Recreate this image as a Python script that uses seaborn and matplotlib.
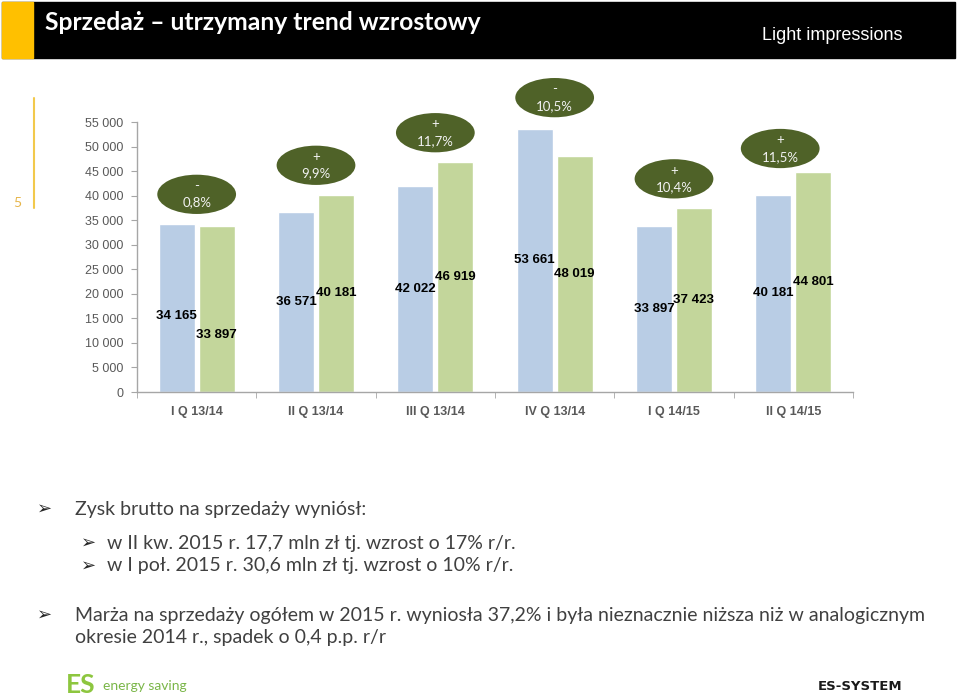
import matplotlib

matplotlib.use("Agg")
import matplotlib.pyplot as plt
import numpy as np
import pandas as pd
import seaborn as sns
from matplotlib.patches import Ellipse, Rectangle

# --------------------
# Data
# --------------------
quarters = ["I Q 13/14", "II Q 13/14", "III Q 13/14", "IV Q 13/14", "I Q 14/15", "II Q 14/15"]
sales_prev = [34165, 36571, 42022, 53661, 33897, 40181]
sales_curr = [33897, 40181, 46919, 48019, 37423, 44801]
change_sign = ["-", "+", "+", "-", "+", "+"]
change_pct = ["0,8%", "9,9%", "11,7%", "10,5%", "10,4%", "11,5%"]
y_ticks = list(range(0, 55001, 5000))

title = "Sprzedaż – utrzymany trend wzrostowy"
bullets = [
    "Zysk brutto na sprzedaży wyniósł:",
    "w II kw. 2015 r. 17,7 mln zł tj. wzrost o 17% r/r.",
    "w I poł. 2015 r. 30,6 mln zł tj. wzrost o 10% r/r.",
    "Marża na sprzedaży ogółem w 2015 r. wyniosła 37,2% i była nieznacznie niższa niż w analogicznym",
    "okresie 2014 r., spadek o 0,4 p.p. r/r",
]

df = pd.DataFrame(
    {
        "quarter": quarters * 2,
        "value": sales_prev + sales_curr,
        "series": ["prev"] * len(quarters) + ["curr"] * len(quarters),
    }
)

BLUE = "#B9CDE5"
GREEN = "#C3D69B"
OLIVE = "#4F6228"
GRAY = "#595959"
SANS = ["Lato", "DejaVu Sans"]
ARIAL = ["Liberation Sans", "DejaVu Sans"]

W, H = 960, 700


def fx(px):
    return px / W


def fy(py):
    return 1 - py / H


sns.set_style("white")
fig = plt.figure(figsize=(9.6, 7), dpi=100)

# --------------------
# Header / slide decorations
# --------------------
fig.patches.append(
    Rectangle((fx(2), fy(58)), fx(955 - 2), 56 / H, transform=fig.transFigure, color="black", zorder=0)
)
fig.patches.append(
    Rectangle((fx(2), fy(58)), fx(31), 56 / H, transform=fig.transFigure, color="#FFC000", zorder=1)
)
fig.text(fx(45), fy(23), title, color="white", fontsize=17.8, fontweight="bold", family=SANS, va="center")
fig.text(
    fx(903), fy(35), "Light impressions", color="white", fontsize=13,
    family=["Liberation Sans Narrow", "Liberation Sans"], ha="right", va="center",
)
fig.text(fx(17), fy(203), "5", color="#E6B54A", fontsize=10, family=SANS, ha="center", va="center")
fig.lines.append(
    plt.Line2D([fx(34), fx(34)], [fy(98), fy(208)], transform=fig.transFigure, color="#F2C94C", linewidth=1.5)
)

# --------------------
# Bar chart
# --------------------
ax = fig.add_axes([fx(137), fy(392), fx(853 - 137), (392 - 122) / H])
sns.barplot(
    data=df, x="quarter", y="value", hue="series", order=quarters, hue_order=["prev", "curr"],
    palette=[BLUE, GREEN], width=0.67, gap=0.1, saturation=1, legend=False, ax=ax,
)
ax.set_ylim(0, 55000)
ax.set_xlim(-0.5, len(quarters) - 0.5)
ax.set_yticks(y_ticks)
ax.set_yticklabels([f"{v:,}".replace(",", " ") for v in y_ticks])
ax.set_xlabel("")
ax.set_ylabel("")
for lab in ax.get_yticklabels() + ax.get_xticklabels():
    lab.set_color(GRAY)
    lab.set_fontsize(9)
    lab.set_family(ARIAL)
for lab in ax.get_xticklabels():
    lab.set_fontweight("bold")
ax.tick_params(axis="y", length=4, color="#A6A6A6", pad=6, left=True)
ax.tick_params(axis="x", which="major", length=0, pad=10)
ax.set_xticks(np.arange(len(quarters) + 1) - 0.5, minor=True)
ax.tick_params(axis="x", which="minor", length=4, color="#A6A6A6", bottom=True)
sns.despine(ax=ax)
for side in ["left", "bottom"]:
    ax.spines[side].set_color("#A6A6A6")
    ax.spines[side].set_linewidth(1)

# value labels in the middle of each bar
label_nudge = {(0, 0): -6, (0, 1): -19}
for s, cont in enumerate(ax.containers):
    for i, bar in enumerate(cont):
        v = bar.get_height()
        ax.annotate(
            f"{int(v):,}".replace(",", " "),
            (bar.get_x() + bar.get_width() / 2, v / 2),
            xytext=(0, label_nudge.get((i, s), 0)), textcoords="offset points",
            ha="center", va="center", fontsize=9.5, fontweight="bold", family=ARIAL, color="black",
        )

# growth ellipses above each quarter
ell_dx = [0, 0, 0, 0, 0, -0.11]
ell_dy = [6100, 6000, 5900, 6300, 6000, 4800]
for i, (a, b) in enumerate(zip(sales_prev, sales_curr)):
    cy = max(a, b) + ell_dy[i]
    ax.add_patch(
        Ellipse((i + ell_dx[i], cy), width=0.66, height=8000, facecolor=OLIVE, edgecolor="none", clip_on=False, zorder=5)
    )
    ax.text(
        i + ell_dx[i], cy, f"{change_sign[i]}\n{change_pct[i]}", ha="center", va="center",
        color="#F2F2F2", fontsize=9.5, family=SANS, linespacing=1.45, zorder=6, clip_on=False,
    )

# --------------------
# Bullet text
# --------------------
rows = [(0, 509), (1, 543), (1, 566), (0, 615), (None, 637)]
for text, (level, y) in zip(bullets, rows):
    tx = 75 if level in (0, None) else 107
    if level is not None:
        ax_x = 45 if level == 0 else 89
        fig.text(fx(ax_x), fy(y), "➢", fontsize=13, family=["DejaVu Sans"], color="#262626", ha="center", va="center")
    fig.text(fx(tx), fy(y), text, fontsize=14, family=SANS, color="#404040", va="center")

# --------------------
# Footer logos
# --------------------
fig.text(fx(66), fy(685), "ES", fontsize=19, fontweight="bold", family=SANS, color="#8DC63F", va="center")
fig.text(fx(103), fy(686), "energy saving", fontsize=10, family=SANS, color="#7AB648", va="center")
fig.text(fx(860), fy(686), "ES-SYSTEM", fontsize=9.5, fontweight="bold", family=["DejaVu Sans"], color="#1A1A1A",
         ha="center", va="center")

fig.savefig("out.png", dpi=100)
